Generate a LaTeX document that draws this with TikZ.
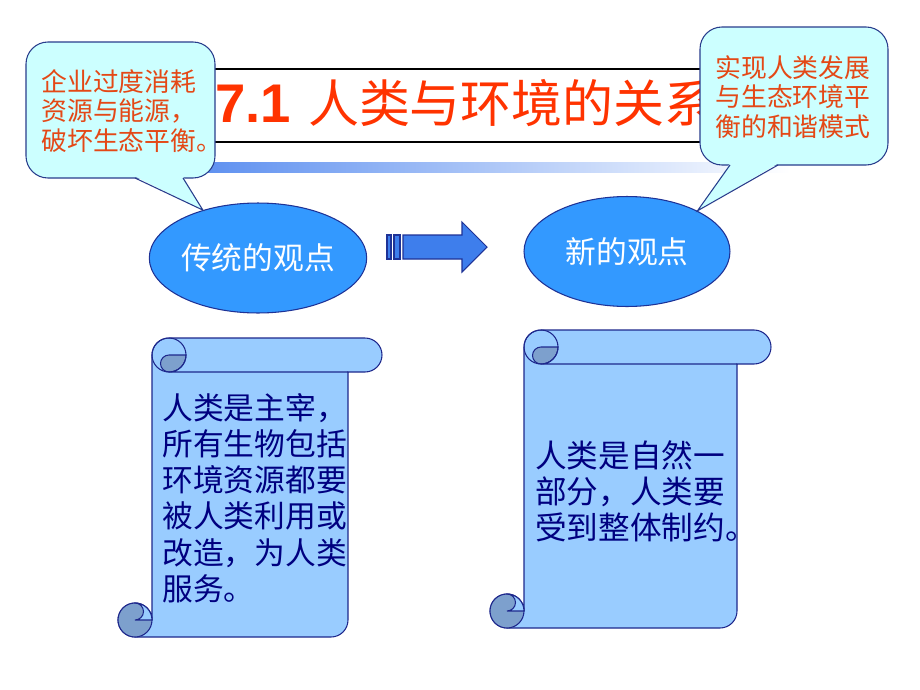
\documentclass[tikz,border=0pt]{standalone}
\usepackage{fontspec}
\setmainfont{Liberation Sans}
\newfontfamily\cjk{Noto Sans CJK SC}
\usetikzlibrary{shapes.geometric}

\definecolor{titlered}{RGB}{255,51,0}
\definecolor{notered}{RGB}{228,72,22}
\definecolor{bubblefill}{RGB}{204,255,255}
\definecolor{bubbleline}{RGB}{40,60,140}
\definecolor{viewfill}{RGB}{51,153,255}
\definecolor{viewline}{RGB}{30,50,150}
\definecolor{arrowfill}{RGB}{62,126,236}
\definecolor{barblue}{RGB}{95,145,240}
\definecolor{scrollfill}{RGB}{153,204,255}
\definecolor{curlfill}{RGB}{125,160,205}
\definecolor{scrollline}{RGB}{30,40,140}
\definecolor{scrolltextcol}{RGB}{0,0,128}

\begin{document}
\begin{tikzpicture}[x=0.02cm, y=-0.02cm,
    bubble/.style={draw=bubbleline, fill=bubblefill, line width=0.6pt},
    note/.style={anchor=west, align=left, inner sep=0pt, text=notered,
        font=\cjk\fontsize{14.7}{17}\selectfont},
    view/.style={ellipse, draw=viewline, fill=viewfill, line width=0.6pt,
        minimum width=4.12cm, minimum height=2.2cm, inner sep=0pt,
        text=white, font=\cjk\fontsize{17.5}{20}\selectfont},
    arrowbox/.style={draw=viewline, fill=arrowfill, line width=0.6pt},
    scroll/.style={draw=scrollline, fill=scrollfill, line width=0.6pt},
    curl/.style={draw=scrollline, fill=curlfill, line width=0.6pt},
    scrolltext/.style={anchor=west, align=left, inner sep=0pt, text=scrolltextcol}]

    \useasboundingbox (0,0) rectangle (920,690);
    \fill[white] (0,0) rectangle (920,690);

    % title
    \shade[left color=barblue, right color=white] (205,162) rectangle (790,172);
    \draw[line width=0.8pt] (200,69) -- (760,69);
    \draw[line width=0.8pt] (200,142) -- (760,142);
    \node[anchor=base west, inner sep=0pt, text=titlered] (title) at (215,122)
        {{\fontsize{31}{31}\selectfont\bfseries 7.1}\hspace{0.34cm}{\cjk\fontsize{29}{29}\selectfont 人类与环境的关系}};

    % views
    \node[view] (oldview) at (258,258) {传统的观点};
    \node[view] (newview) at (627,251.5) {新的观点};

    \foreach \a/\b in {387/391, 394/400}
        \filldraw[arrowbox] (\a,235) rectangle (\b,259);
    \filldraw[arrowbox] (403,235) -- (462,235) -- (462,222) -- (487,247)
        -- (462,272) -- (462,259) -- (403,259) -- cycle;

    % scrolls
    \foreach \L/\R/\T/\B in {152/348/338/637, 524/737/330/628}{
        \filldraw[scroll] (\L,\T+17) arc (180:270:17) -- (\R+17,\T) arc (-90:90:17)
            -- (\R,\T+34) -- (\R,\B-17) arc (0:90:17) -- (\L-17,\B) arc (90:360:17) -- cycle;
        \filldraw[curl] (\L-17,\B-17) circle (17);
        \filldraw[scroll] (\L-17,\B-34) arc (270:360:17) -- (\L-17,\B-17) arc (90:-90:8.5) -- cycle;
        \filldraw[curl] (\L+17,\T+17) arc (270:90:8.5) arc (90:0:17) -- cycle;
        \draw[draw=scrollline, line width=0.6pt] (\L+17,\T+17) circle (17)
            (\L+17,\T+34) -- (\R,\T+34);
    }

    \node[scrolltext, font=\cjk\fontsize{17.5}{20.6}\selectfont] (oldtext) at (162,498)
        {人类是主宰，\\所有生物包括\\环境资源都要\\被人类利用或\\改造，为人类\\服务。};
    \node[scrolltext, font=\cjk\fontsize{18}{20.4}\selectfont] (newtext) at (535,491)
        {人类是自然一\\部分，人类要\\受到整体制约。};

    % callouts
    \draw[bubble, rounded corners=0.44cm] (26,42) rectangle (215,178);
    \fill[bubblefill] (135,176.5) -- (oldview.139) -- (183,176.5) -- cycle;
    \draw[bubbleline, line width=0.6pt] (135,178) -- (oldview.139) -- (183,178);
    \node[note] (leftnote) at (41,111) {企业过度消耗\\资源与能源，\\破坏生态平衡。};

    \draw[bubble, rounded corners=0.44cm] (700,27) rectangle (888,165);
    \fill[bubblefill] (730,163.5) -- (newview.30) -- (778,163.5) -- cycle;
    \draw[bubbleline, line width=0.6pt] (730,165) -- (newview.30) -- (778,165);
    \node[note] (rightnote) at (715,97) {实现人类发展\\与生态环境平\\衡的和谐模式};
\end{tikzpicture}
\end{document}
